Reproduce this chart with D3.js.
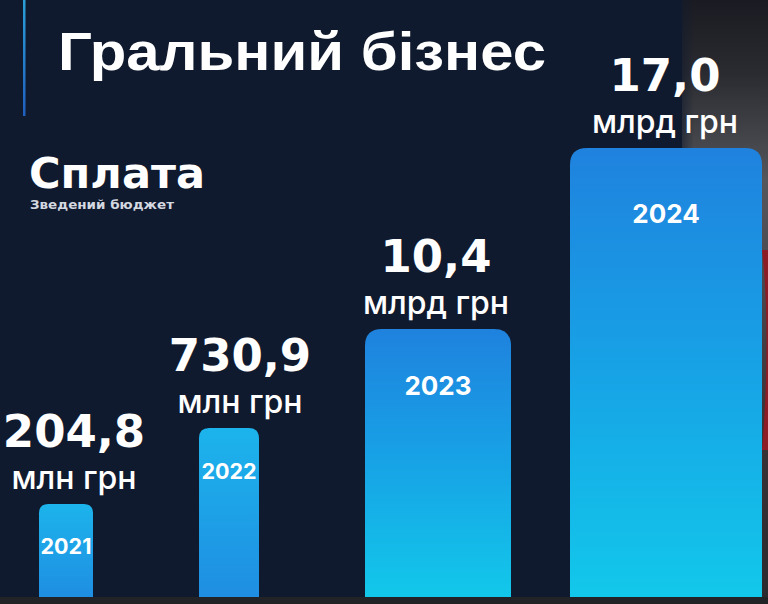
<!DOCTYPE html>
<html>
<head>
<meta charset="utf-8">
<script src="https://cdn.jsdelivr.net/npm/d3@7/dist/d3.min.js"></script>
<style>
html,body{margin:0;padding:0;background:#101a2e;}
svg{display:block;}
</style>
</head>
<body>
<svg id="chart" width="768" height="604"></svg>
<script>
// ---- data ----
const title = "Гральний бізнес";
const subtitle = "Сплата";
const note = "Зведений бюджет";
const years = ["2021", "2022", "2023", "2024"];
const values = [204.8, 730.9, 10.4, 17.0];
const units = ["млн грн", "млн грн", "млрд грн", "млрд грн"];
const unitFactor = {"млн грн": 1, "млрд грн": 1000};

const W = 768, H = 604;
const svg = d3.select("#chart");
const fmt = v => d3.format(".1f")(v).replace(".", ",");

const data = years.map((y, i) => ({
  year: y, value: values[i], unit: units[i],
  mln: values[i] * unitFactor[units[i]]
}));
const mlnVals = data.map(d => d.mln);

// The original graphic is not drawn to scale: piecewise scales reproduce its visual sizes
const baseY = 597;
const hScale = d3.scaleLinear().domain(mlnVals).range([93, 169, 268, 449]);
const wScale = d3.scaleLinear().domain(mlnVals).range([54, 60, 146, 192]);
const xScale = d3.scaleOrdinal().domain(years).range([39, 199, 365, 570]);
const labelX = d3.scaleOrdinal().domain(years).range([74, 240, 436, 665]);

const defs = svg.append("defs");
function grad(id, stops, x1, y1, x2, y2) {
  const g = defs.append("linearGradient").attr("id", id)
    .attr("x1", x1).attr("y1", y1).attr("x2", x2).attr("y2", y2);
  stops.forEach(s => g.append("stop").attr("offset", s[0]).attr("stop-color", s[1]).attr("stop-opacity", s[2] == null ? 1 : s[2]));
}
grad("gBig", [[0, "#1f82de"], [0.5, "#17a3e6"], [1, "#12c8ea"]], 0, 0, 0, 1);
grad("gSmall", [[0, "#1cb4ec"], [1, "#1f8ee2"]], 0, 0, 0, 1);
grad("gPhoto", [[0, "#1a1b22"], [0.12, "#2a2b30"], [0.3, "#55565b"], [0.45, "#4a4a50"], [0.7, "#3a3338"], [1, "#2a2a2e"]], 0, 0, 0, 1);
grad("gFade", [[0, "#101a2e", 1], [1, "#101a2e", 0]], 0, 0, 1, 0);
grad("gLine", [[0, "#2aa0d8"], [1, "#1f5fc0"]], 0, 0, 0, 1);

// background
svg.append("rect").attr("width", W).attr("height", H).attr("fill", "#101a2e");
svg.append("rect").attr("x", 682).attr("y", 0).attr("width", W - 682).attr("height", H).attr("fill", "url(#gPhoto)");
svg.append("path").attr("d", "M762,250 C768,300 768,380 762,450 L768,450 L768,250 Z").attr("fill", "#8c1c26");
svg.append("rect").attr("x", 672).attr("y", 0).attr("width", 22).attr("height", H).attr("fill", "url(#gFade)");
svg.append("rect").attr("x", 0).attr("y", baseY).attr("width", W).attr("height", H - baseY).attr("fill", "#222326");

// accent line
svg.append("rect").attr("x", 23).attr("y", 0).attr("width", 2.5).attr("height", 116).attr("fill", "url(#gLine)");

// titles
svg.append("text").attr("x", 58).attr("y", 70).text(title)
  .attr("font-family", "Liberation Sans, Arial, sans-serif").attr("font-weight", 700)
  .attr("font-size", 54).attr("textLength", 488).attr("lengthAdjust", "spacingAndGlyphs")
  .attr("fill", "#ffffff");
svg.append("text").attr("x", 29).attr("y", 188).text(subtitle)
  .attr("font-family", "DejaVu Sans, sans-serif").attr("font-weight", 700)
  .attr("font-size", 42).attr("textLength", 176).attr("lengthAdjust", "spacingAndGlyphs")
  .attr("fill", "#ffffff");
svg.append("text").attr("x", 30).attr("y", 209).text(note)
  .attr("font-family", "DejaVu Sans, sans-serif").attr("font-weight", 700)
  .attr("font-size", 12.5).attr("textLength", 144).attr("lengthAdjust", "spacingAndGlyphs")
  .attr("fill", "#d4d8e0");

// bars
const roundTop = (x, y, w, h, r) =>
  `M${x},${y + h} L${x},${y + r} Q${x},${y} ${x + r},${y} L${x + w - r},${y} Q${x + w},${y} ${x + w},${y + r} L${x + w},${y + h} Z`;

const g = svg.selectAll("g.bar").data(data).join("g").attr("class", "bar");
g.append("path")
  .attr("d", d => {
    const w = wScale(d.mln), h = hScale(d.mln);
    return roundTop(xScale(d.year), baseY - h, w, h, Math.min(17, w * 0.17));
  })
  .attr("fill", d => d.unit === "млн грн" ? "url(#gSmall)" : "url(#gBig)");

const cx = d => xScale(d.year) + wScale(d.mln) / 2;
const topY = d => baseY - hScale(d.mln);

g.append("text").attr("x", cx).attr("y", d => topY(d) + 40 + wScale(d.mln) * 0.18)
  .attr("text-anchor", "middle").text(d => d.year)
  .attr("font-family", "Inter, sans-serif").attr("font-weight", 700)
  .attr("font-size", d => wScale(d.mln) > 100 ? 26 : 21.5).attr("fill", "#ffffff");

// value + unit as one wrapped text
const lbl = g.append("text").attr("text-anchor", "middle").attr("fill", "#ffffff");
lbl.append("tspan").attr("x", d => labelX(d.year)).attr("y", d => topY(d) - 57)
  .text(d => fmt(d.value))
  .attr("font-family", "DejaVu Sans, sans-serif").attr("font-weight", 700)
  .attr("font-size", 45);
lbl.append("tspan").attr("x", d => labelX(d.year)).attr("y", d => topY(d) - 15)
  .text(d => d.unit)
  .attr("font-family", "Inter, sans-serif").attr("font-weight", 500)
  .attr("font-size", 32);
</script>
</body>
</html>
